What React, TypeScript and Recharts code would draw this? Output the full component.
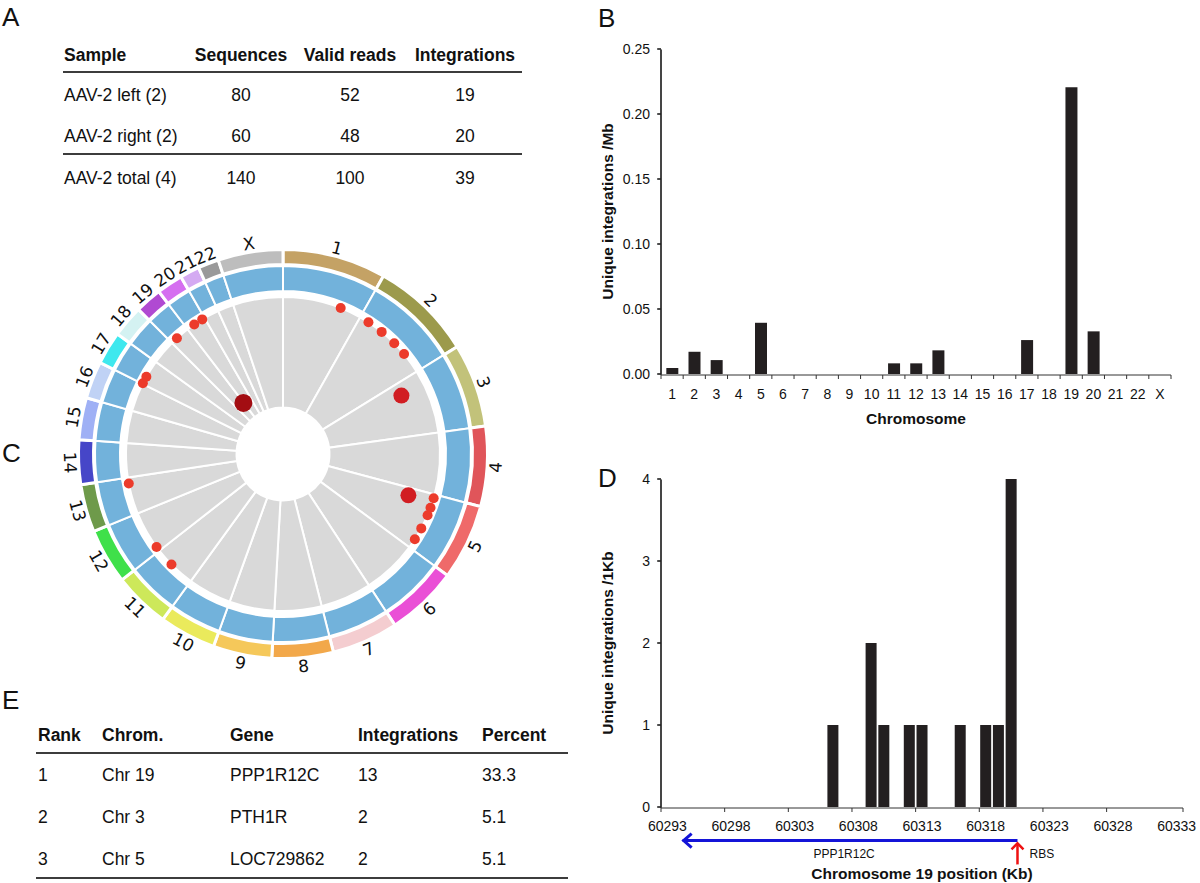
import React from "react";
import {
  BarChart, Bar, XAxis, YAxis, ReferenceLine,
  PieChart, Pie, Cell, RadarChart, Radar, PolarAngleAxis, PolarRadiusAxis,
} from "recharts";

const font = '"Liberation Sans", Arial, Helvetica, sans-serif';
const barColor = "#231f20";
const axisColor = "#333";
const textColor = "#111";

// ---- panel A: sequencing summary
const sampleNames = ["AAV-2 left (2)", "AAV-2 right (2)", "AAV-2 total (4)"];
const sequenceCounts = [80, 60, 140];
const validReads = [52, 48, 100];
const sampleIntegrations = [19, 20, 39];

// ---- panel B: integrations per Mb by chromosome
const chromosomes = ["1", "2", "3", "4", "5", "6", "7", "8", "9", "10", "11", "12", "13", "14", "15", "16", "17", "18", "19", "20", "21", "22", "X"];
const integrationsPerMb = [0.0046, 0.0171, 0.0107, 0, 0.0394, 0, 0, 0, 0, 0, 0.0082, 0.0082, 0.0182, 0, 0, 0, 0.0261, 0, 0.2205, 0.0328, 0, 0, 0];
const perMbTicks = [0, 0.05, 0.1, 0.15, 0.2, 0.25];

// ---- panel C: circos plot
const chromLengthsMb = [247.2, 242.95, 199.5, 191.27, 180.86, 170.9, 158.8, 146.27, 140.27, 135.37, 134.45, 132.35, 114.14, 106.37, 100.34, 88.83, 78.77, 76.12, 63.81, 62.44, 46.94, 49.69, 154.91];
const ideogramColors = ["#c4a265", "#9c9a4c", "#c2c27a", "#e0555a", "#ef6a6a", "#ea4fd6", "#f4cdd0", "#f2a84a", "#f5c85a", "#eaea5c", "#cde85a", "#3fe04a", "#6e9a4a", "#4646c8", "#9fb0f5", "#c0d2f5", "#3ee8ee", "#d4f2f2", "#b04ad2", "#d56ef0", "#d4aaf2", "#9a9a9a", "#bdbdbd"];
const siteChrom = ["1", "2", "2", "2", "2", "3", "5", "5", "5", "5", "5", "5", "11", "12", "13", "17", "17", "19", "19", "20", "20"];
const sitePosMb = [181, 29.6, 79.7, 131.6, 176.4, 45.1, 27.9, 12.0, 42.8, 67.4, 112.2, 150.9, 78.0, 13.9, 96.0, 2, 24.7, 20.9, 60.3, 24.9, 53.9];
const siteCounts = [1, 1, 1, 1, 1, 2, 2, 1, 1, 1, 1, 1, 1, 1, 1, 1, 1, 1, 13, 1, 1];

// ---- panel D: chr19 window
const positionsKb = [60293, 60294, 60295, 60296, 60297, 60298, 60299, 60300, 60301, 60302, 60303, 60304, 60305, 60306, 60307, 60308, 60309, 60310, 60311, 60312, 60313, 60314, 60315, 60316, 60317, 60318, 60319, 60320, 60321, 60322, 60323, 60324, 60325, 60326, 60327, 60328, 60329, 60330, 60331, 60332, 60333];
const integrationsPerKb = [0, 0, 0, 0, 0, 0, 0, 0, 0, 0, 0, 0, 0, 1, 0, 0, 2, 1, 0, 1, 1, 0, 0, 1, 0, 1, 1, 4, 0, 0, 0, 0, 0, 0, 0, 0, 0, 0, 0, 0, 0];
const perKbTicks = [0, 1, 2, 3, 4];
const geneStartKb = 60320.5;
const geneEndKb = 60294.2;

// ---- panel E: top genes
const ranks = ["1", "2", "3"];
const rankChroms = ["Chr 19", "Chr 3", "Chr 5"];
const rankGenes = ["PPP1R12C", "PTH1R", "LOC729862"];
const rankIntegrations = ["13", "2", "2"];
const rankPercents = ["33.3", "5.1", "5.1"];

// derived tables
const barDataB = chromosomes.map((c, i) => ({ chrom: c, v: integrationsPerMb[i], idx: i + 0.5 }));
const barDataD = positionsKb.map((p, i) => ({ pos: String(p), posNum: p, v: integrationsPerKb[i] }));
const chromData = chromosomes.map((c, i) => ({ chrom: c, len: chromLengthsMb[i] }));
const chromStart: number[] = [];
chromLengthsMb.reduce((acc, l, i) => { chromStart[i] = acc; return acc + l; }, 0);
const genomeTotal = chromLengthsMb.reduce((a, b) => a + b, 0);
const siteData = siteChrom.map((c, i) => ({
  g: chromStart[chromosomes.indexOf(c)] + sitePosMb[i],
  lvl: -Math.log(siteCounts[i]),
  count: siteCounts[i],
}));

const VerticalTitle = (props: any) => {
  const vb = props.viewBox || {};
  const x = (vb.x || 0) + 17.5;
  const y = (vb.y || 0) + (vb.height || 0) / 2;
  return (
    <text x={x} y={y} transform={`rotate(-90 ${x} ${y})`} textAnchor="middle" dominantBaseline="central"
      fontFamily={font} fontWeight="bold" fontSize={15.5} fill={textColor}>{props.text}</text>
  );
};

const BottomTitle = (props: any) => {
  const vb = props.viewBox || {};
  const x = (vb.x || 0) + (vb.width || 0) / 2;
  const y = (vb.y || 0) + props.dy;
  return (
    <text x={x} y={y} textAnchor="middle" dominantBaseline="central"
      fontFamily={font} fontWeight="bold" fontSize={15.5} fill={textColor}>{props.text}</text>
  );
};

// edge ticks along the x axis; the first one also carries the value axis line up the plot
const makeEdgeTick = (first: number, tickLen: number, gap: number, plotHeight: number) => (p: any) => {
  const axisY = p.y - tickLen - gap;
  return (
    <g>
      {p.payload.value === first ? (
        <line x1={p.x} x2={p.x} y1={axisY} y2={axisY - plotHeight} stroke="#222" strokeWidth={1.4} />
      ) : null}
    </g>
  );
};

// y tick: label plus a short tick mark to the left of the axis
const makeYTick = (fmt: (v: number) => string) => (p: any) => (
  <g>
    <line x1={p.x + 7} x2={p.x + 11} y1={p.y} y2={p.y} stroke="#222" strokeWidth={1.3} />
    <text x={p.x} y={p.y} textAnchor="end" dominantBaseline="central" fontFamily={font} fontSize={14} fill={textColor}>
      {fmt(p.payload.value)}
    </text>
  </g>
);

const tickStyle = { fontFamily: font, fontSize: 14, fill: textColor };

const ChartB = () => (
  <BarChart width={610} height={440} data={barDataB} margin={{ top: 49, right: 29, bottom: 64, left: 0 }}
    barCategoryGap="24%">
    <XAxis xAxisId="edge" dataKey="idx" type="number" domain={[0, 23]} allowDataOverflow
      ticks={Array.from({ length: 24 }, (_, i) => i)} height={1}
      stroke={axisColor} tickSize={4} tickMargin={2} tick={makeEdgeTick(0, 4, 2, 325)} />
    <XAxis xAxisId="cat" dataKey="chrom" interval={0} axisLine={false} tickLine={false} height={1}
      tickSize={5} tickMargin={10} tick={tickStyle}
      label={{ content: (p: any) => <BottomTitle {...p} text="Chromosome" dy={44.5} /> }} />
    <YAxis width={71} domain={[0, 0.25]} ticks={perMbTicks} stroke={axisColor}
      tickSize={3} tickMargin={8} tick={makeYTick((v) => v.toFixed(2))} interval={0}
      label={{ content: (p: any) => <VerticalTitle {...p} text="Unique integrations /Mb" /> }} />
    <Bar xAxisId="cat" dataKey="v" fill={barColor} isAnimationActive={false} />
  </BarChart>
);

const GeneArrow = (props: any) => {
  const { x1, y1, x2, y2 } = props;
  return (
    <g>
      <line x1={x1} y1={y1} x2={x2} y2={y2} stroke="#1414d8" strokeWidth={3} />
      <polyline points={`${x2 + 9},${y2 - 7} ${x2 + 1},${y2} ${x2 + 9},${y2 + 7}`} fill="none" stroke="#1414d8" strokeWidth={3} />
      <text x={(x1 + x2) / 2 - 6} y={y1 + 13} textAnchor="middle" dominantBaseline="central" fontFamily={font} fontSize={12} fill={textColor}>PPP1R12C</text>
    </g>
  );
};

const RbsArrow = (props: any) => {
  const { x1, y1, x2, y2 } = props;
  return (
    <g>
      <line x1={x1} y1={y1} x2={x2} y2={y2 + 1} stroke="#ee1111" strokeWidth={2.5} />
      <polyline points={`${x2 - 6},${y2 + 7} ${x2},${y2 + 1} ${x2 + 6},${y2 + 7}`} fill="none" stroke="#ee1111" strokeWidth={2.5} />
      <text x={x1 + 12} y={y1 - 10} textAnchor="start" dominantBaseline="central" fontFamily={font} fontSize={12} fill={textColor}>RBS</text>
    </g>
  );
};

const ChartD = () => (
  <BarChart width={610} height={453} data={barDataD} margin={{ top: 49, right: 17, bottom: 74, left: 0 }}
    barCategoryGap="7%">
    <XAxis xAxisId="pos" dataKey="posNum" type="number" domain={[60292.5, 60333.5]} allowDataOverflow
      ticks={Array.from({ length: 42 }, (_, i) => 60292.5 + i)} height={1}
      stroke={axisColor} tickSize={4} tickMargin={2} tick={makeEdgeTick(60292.5, 4, 2, 328)} />
    <XAxis xAxisId="cat" dataKey="pos" interval={4} axisLine={false} tickLine={false} height={1}
      tickSize={5} tickMargin={9} tick={tickStyle}
      label={{ content: (p: any) => <BottomTitle {...p} text="Chromosome 19 position (Kb)" dy={66} /> }} />
    <YAxis width={71} domain={[0, 4]} ticks={perKbTicks} stroke={axisColor}
      tickSize={3} tickMargin={8} tick={makeYTick((v) => String(v))} interval={0}
      label={{ content: (p: any) => <VerticalTitle {...p} text="Unique integrations /1Kb" /> }} />
    <Bar xAxisId="cat" dataKey="v" fill={barColor} isAnimationActive={false} />
    <ReferenceLine xAxisId="pos" ifOverflow="visible"
      segment={[{ x: geneStartKb, y: -0.41 }, { x: geneEndKb, y: -0.41 }]} shape={GeneArrow} />
    <ReferenceLine xAxisId="pos" ifOverflow="visible"
      segment={[{ x: geneStartKb, y: -0.7 }, { x: geneStartKb, y: -0.43 }]} shape={RbsArrow} />
  </BarChart>
);

const renderChromLabel = (p: any) => {
  const r = 213;
  const rad = (p.midAngle * Math.PI) / 180;
  const x = p.cx + r * Math.cos(rad);
  const y = p.cy - r * Math.sin(rad);
  let rot = (((90 - p.midAngle) % 360) + 360) % 360;
  if (rot > 90 && rot < 270) rot -= 180;
  return (
    <text key={`lab-${p.index}`} x={x} y={y} transform={`rotate(${rot} ${x} ${y})`} textAnchor="middle"
      dominantBaseline="central" fontFamily='"DejaVu Sans", sans-serif' fontSize={17} fill={textColor}>
      {chromosomes[p.index]}
    </text>
  );
};

const renderSiteDot = (p: any) => {
  const c = siteCounts[p.index] ?? 1;
  const r = c >= 10 ? 9 : c >= 2 ? 8 : 5;
  const fill = c >= 10 ? "#a30d12" : c >= 2 ? "#d11d22" : "#ec3b2b";
  return <circle key={`dot-${p.index}`} cx={p.cx} cy={p.cy} r={r} fill={fill} stroke="none" />;
};

const Circos = () => (
  <div style={{ position: "absolute", left: 58, top: 229, width: 450, height: 450 }}>
    <div style={{ position: "absolute", left: 0, top: 0 }}>
      <PieChart width={450} height={450} margin={{ top: 0, right: 0, bottom: 0, left: 0 }}>
        <Pie data={chromData} dataKey="len" nameKey="chrom" cx={225} cy={225} startAngle={90} endAngle={-270}
          innerRadius={46.5} outerRadius={157} fill="#d9d9d9" stroke="#fff" strokeWidth={2} isAnimationActive={false} />
        <Pie data={chromData} dataKey="len" nameKey="chrom" cx={225} cy={225} startAngle={90} endAngle={-270}
          innerRadius={163} outerRadius={188} fill="#72b2db" stroke="#fff" strokeWidth={2} isAnimationActive={false} />
        <Pie data={chromData} dataKey="len" nameKey="chrom" cx={225} cy={225} startAngle={90} endAngle={-270}
          innerRadius={189.5} outerRadius={204.5} stroke="#fff" strokeWidth={3} isAnimationActive={false}
          label={renderChromLabel} labelLine={false}>
          {chromData.map((d, i) => <Cell key={d.chrom} fill={ideogramColors[i]} />)}
        </Pie>
      </PieChart>
    </div>
    <div style={{ position: "absolute", left: 0, top: 0 }}>
      <RadarChart width={450} height={450} cx={225} cy={225} innerRadius={47.5} outerRadius={157}
        startAngle={90} endAngle={-270} data={siteData} margin={{ top: 0, right: 0, bottom: 0, left: 0 }}>
        <PolarAngleAxis dataKey="g" type="number" domain={[0, genomeTotal]} tick={false} axisLine={false} tickLine={false} />
        <PolarRadiusAxis domain={[-3.04, 0]} tick={false} axisLine={false} />
        <Radar dataKey="lvl" fill="none" stroke="none" dot={renderSiteDot} isAnimationActive={false} />
      </RadarChart>
    </div>
  </div>
);

const ruleColor = "#3c3c3c";

const Tables = () => (
  <svg width={1200} height={883} style={{ position: "absolute", left: 0, top: 0 }} fontFamily={font} fill={textColor}>
    {/* panel letters */}
    <text x={2} y={26} fontSize={26}>A</text>
    <text x={598} y={27} fontSize={26}>B</text>
    <text x={2} y={462} fontSize={26}>C</text>
    <text x={598} y={487} fontSize={26}>D</text>
    <text x={2} y={709} fontSize={26}>E</text>

    {/* table A */}
    <g fontSize={17.5}>
      <text x={64} y={60.5} fontWeight="bold">Sample</text>
      <text x={241} y={60.5} fontWeight="bold" textAnchor="middle">Sequences</text>
      <text x={350} y={60.5} fontWeight="bold" textAnchor="middle">Valid reads</text>
      <text x={465} y={60.5} fontWeight="bold" textAnchor="middle">Integrations</text>
      <line x1={63} x2={522} y1={72} y2={72} stroke={ruleColor} strokeWidth={2} />
      <line x1={63} x2={522} y1={154} y2={154} stroke={ruleColor} strokeWidth={2} />
      {sampleNames.map((s, i) => {
        const y = [100.5, 142, 183.5][i];
        return (
          <g key={s}>
            <text x={64} y={y}>{s}</text>
            <text x={241} y={y} textAnchor="middle">{sequenceCounts[i]}</text>
            <text x={350} y={y} textAnchor="middle">{validReads[i]}</text>
            <text x={465} y={y} textAnchor="middle">{sampleIntegrations[i]}</text>
          </g>
        );
      })}
    </g>

    {/* table E */}
    <g fontSize={17.5}>
      <text x={38} y={741.3} fontWeight="bold">Rank</text>
      <text x={102} y={741.3} fontWeight="bold">Chrom.</text>
      <text x={230} y={741.3} fontWeight="bold">Gene</text>
      <text x={358} y={741.3} fontWeight="bold">Integrations</text>
      <text x={482} y={741.3} fontWeight="bold">Percent</text>
      <line x1={36} x2={568} y1={753} y2={753} stroke={ruleColor} strokeWidth={2} />
      <line x1={36} x2={568} y1={878} y2={878} stroke={ruleColor} strokeWidth={2} />
      {ranks.map((r, i) => {
        const y = [781.3, 823, 864.6][i];
        return (
          <g key={r}>
            <text x={38} y={y}>{r}</text>
            <text x={102} y={y}>{rankChroms[i]}</text>
            <text x={230} y={y}>{rankGenes[i]}</text>
            <text x={358} y={y}>{rankIntegrations[i]}</text>
            <text x={482} y={y}>{rankPercents[i]}</text>
          </g>
        );
      })}
    </g>
  </svg>
);

export default function App() {
  return (
    <div style={{ position: "absolute", left: 0, top: 0, width: 1200, height: 883, background: "#fff", overflow: "hidden" }}>
      <Tables />
      <Circos />
      <div style={{ position: "absolute", left: 590, top: 0 }}>
        <ChartB />
      </div>
      <div style={{ position: "absolute", left: 590, top: 430 }}>
        <ChartD />
      </div>
    </div>
  );
}
